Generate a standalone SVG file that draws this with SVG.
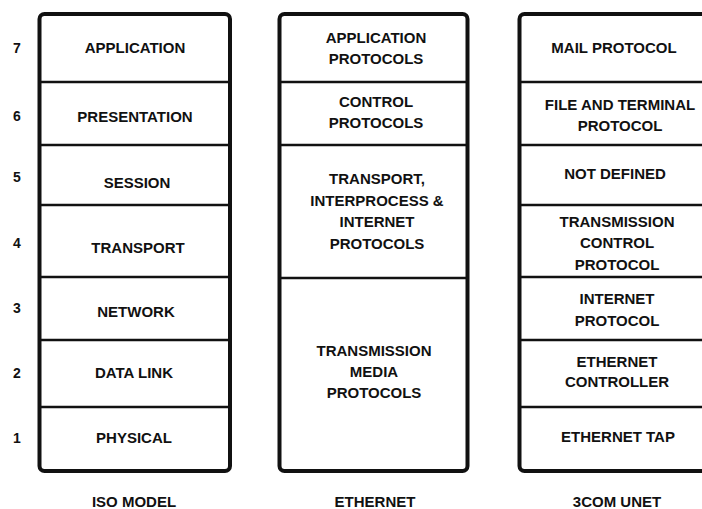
<svg xmlns="http://www.w3.org/2000/svg" width="702" height="509" viewBox="0 0 702 509">
<style>
.frame{fill:#fff;stroke:#111;stroke-width:4;}
.div{stroke:#111;stroke-width:2.4;fill:none;}
text{font-family:"Liberation Sans",Arial,Helvetica,sans-serif;font-weight:bold;font-size:15px;fill:#111;text-anchor:middle;}
.num{font-size:14px;}
</style>
<rect x="0" y="0" width="702" height="509" fill="#fff"/>
<g id="layer-numbers">
<text class="num" x="17" y="53">7</text>
<text class="num" x="17" y="121">6</text>
<text class="num" x="17" y="182">5</text>
<text class="num" x="17" y="248">4</text>
<text class="num" x="17" y="313">3</text>
<text class="num" x="17" y="378">2</text>
<text class="num" x="17" y="443">1</text>
</g>
<g id="iso-model">
<rect class="frame" x="39.5" y="14" width="190.5" height="457" rx="5"/>
<g class="div">
<line x1="41" y1="82" x2="228" y2="82"/>
<line x1="41" y1="145" x2="228" y2="145"/>
<line x1="41" y1="205" x2="228" y2="205"/>
<line x1="41" y1="277" x2="228" y2="277"/>
<line x1="41" y1="340" x2="228" y2="340"/>
<line x1="41" y1="407" x2="228" y2="407"/>
</g>
<g id="iso-application"><text x="135" y="53">APPLICATION</text></g>
<g id="iso-presentation"><text x="135" y="122">PRESENTATION</text></g>
<g id="iso-session"><text x="137" y="188">SESSION</text></g>
<g id="iso-transport"><text x="138" y="253">TRANSPORT</text></g>
<g id="iso-network"><text x="136" y="317">NETWORK</text></g>
<g id="iso-datalink"><text x="134" y="378">DATA LINK</text></g>
<g id="iso-physical"><text x="134" y="443">PHYSICAL</text></g>
<text x="134" y="507">ISO MODEL</text>
</g>
<g id="ethernet">
<rect class="frame" x="279.5" y="14" width="188" height="457" rx="5"/>
<g class="div">
<line x1="281" y1="82" x2="466" y2="82"/>
<line x1="281" y1="145" x2="466" y2="145"/>
<line x1="281" y1="278" x2="466" y2="278"/>
</g>
<g id="eth-application"><text x="376" y="43">APPLICATION</text><text x="376" y="64">PROTOCOLS</text></g>
<g id="eth-control"><text x="376" y="107">CONTROL</text><text x="376" y="128">PROTOCOLS</text></g>
<g id="eth-transport"><text x="377" y="184">TRANSPORT,</text><text x="377" y="206">INTERPROCESS &amp;</text><text x="377" y="227">INTERNET</text><text x="377" y="249">PROTOCOLS</text></g>
<g id="eth-media"><text x="374" y="356">TRANSMISSION</text><text x="374" y="377">MEDIA</text><text x="374" y="398">PROTOCOLS</text></g>
<text x="375" y="507">ETHERNET</text>
</g>
<g id="unet">
<rect class="frame" x="519.5" y="14" width="192" height="457" rx="5"/>
<g class="div">
<line x1="521" y1="82" x2="710" y2="82"/>
<line x1="521" y1="145" x2="710" y2="145"/>
<line x1="521" y1="205" x2="710" y2="205"/>
<line x1="521" y1="277" x2="710" y2="277"/>
<line x1="521" y1="340" x2="710" y2="340"/>
<line x1="521" y1="407" x2="710" y2="407"/>
</g>
<g id="unet-mail"><text x="614" y="53">MAIL PROTOCOL</text></g>
<g id="unet-file"><text x="620" y="110">FILE AND TERMINAL</text><text x="620" y="131">PROTOCOL</text></g>
<g id="unet-notdefined"><text x="615" y="179">NOT DEFINED</text></g>
<g id="unet-tcp"><text x="617" y="227">TRANSMISSION</text><text x="617" y="248">CONTROL</text><text x="617" y="270">PROTOCOL</text></g>
<g id="unet-ip"><text x="617" y="304">INTERNET</text><text x="617" y="326">PROTOCOL</text></g>
<g id="unet-controller"><text x="617" y="367">ETHERNET</text><text x="617" y="387">CONTROLLER</text></g>
<g id="unet-tap"><text x="618" y="442">ETHERNET TAP</text></g>
<text x="617" y="507">3COM UNET</text>
</g>
<g id="connectors"></g>
</svg>
